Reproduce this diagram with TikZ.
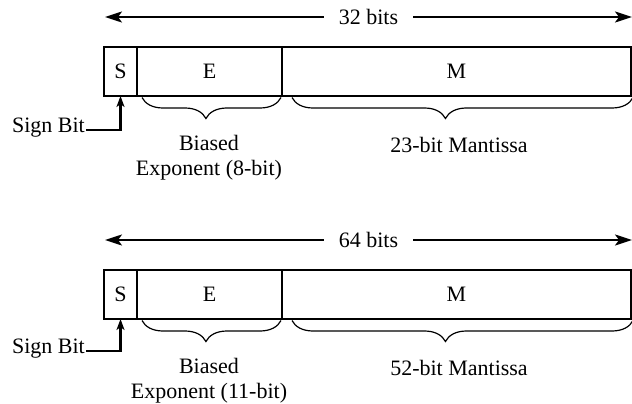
\documentclass[tikz,border=0pt]{standalone}
\usepackage{fontspec}
\setmainfont{Liberation Serif}
\usetikzlibrary{arrows.meta,positioning,decorations.pathreplacing}
\tikzset{
  field/.style={draw,line width=2.8pt,anchor=north west,outer sep=0pt,
                minimum height=49pt,inner sep=0pt,font=\rmfamily\fontsize{22pt}{25pt}\selectfont},
  lbl/.style={align=center,inner sep=0pt,font=\rmfamily\fontsize{22pt}{25pt}\selectfont},
  bits/.style={lbl,fill=white,inner xsep=15pt,inner ysep=2pt},
  dimarrow/.style={{Stealth[length=17pt,width=11pt,inset=4pt]}-{Stealth[length=17pt,width=11pt,inset=4pt]},line width=2.2pt},
  signarrow/.style={-{Stealth[length=11pt,width=8pt,inset=3pt]},line width=2.5pt},
  brace/.style={decorate,line width=1.2pt,
                decoration={brace,mirror,amplitude=21pt}},
}

\begin{document}
\begin{tikzpicture}[x=1pt,y=-1pt]
\useasboundingbox (0,0) rectangle (632,404);
% single precision
\coordinate (l1) at (105,17);
\coordinate (r1) at (632,17);
\draw[dimarrow] (l1) -- node[bits]{32 bits} (r1);
\node[field,minimum width=33pt] (s1) at (104,47) {S};
\node[field,minimum width=145pt] (e1) at (s1.north east) {E};
\node[field,minimum width=349pt] (m1) at (e1.north east) {M};
\draw[brace,decoration={aspect=0.46}] ([xshift=5pt,yshift=-1.5pt]e1.south west) -- ([xshift=-1pt,yshift=-1.5pt]e1.south east);
\draw[brace,decoration={aspect=0.45}] ([xshift=10pt,yshift=-1.5pt]m1.south west) -- ([xshift=2pt,yshift=-1.5pt]m1.south east);
\node[lbl] (eb1) at (209,158) {Biased\\Exponent (8-bit)};
\node[lbl] (mb1) at (459,145) {23-bit Mantissa};
\node[lbl,anchor=mid east,inner sep=1pt] (sb1) at (86,130) {Sign Bit};
\draw[signarrow] (sb1.mid east) -| (s1.south);
% double precision
\coordinate (l2) at (105,240);
\coordinate (r2) at (632,240);
\draw[dimarrow] (l2) -- node[bits]{64 bits} (r2);
\node[field,minimum width=33pt] (s2) at (104,270) {S};
\node[field,minimum width=145pt] (e2) at (s2.north east) {E};
\node[field,minimum width=349pt] (m2) at (e2.north east) {M};
\draw[brace,decoration={aspect=0.46}] ([xshift=5pt,yshift=-1.5pt]e2.south west) -- ([xshift=-1pt,yshift=-1.5pt]e2.south east);
\draw[brace,decoration={aspect=0.45}] ([xshift=10pt,yshift=-1.5pt]m2.south west) -- ([xshift=2pt,yshift=-1.5pt]m2.south east);
\node[lbl] (eb2) at (209,381) {Biased\\Exponent (11-bit)};
\node[lbl] (mb2) at (459,368) {52-bit Mantissa};
\node[lbl,anchor=mid east,inner sep=1pt] (sb2) at (86,351) {Sign Bit};
\draw[signarrow] (sb2.mid east) -| (s2.south);
\end{tikzpicture}
\end{document}
